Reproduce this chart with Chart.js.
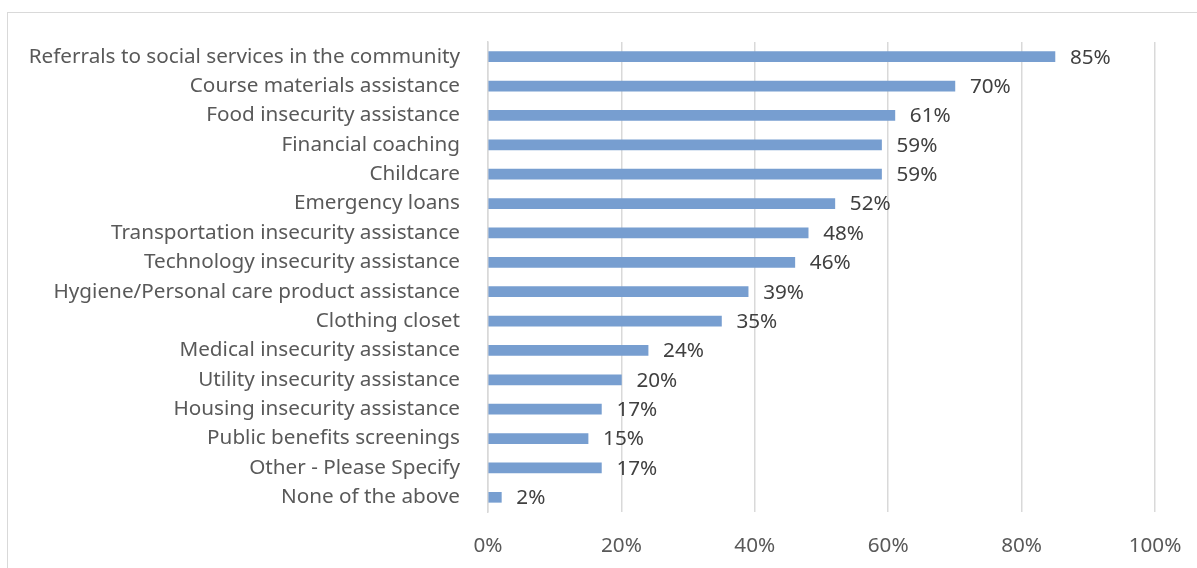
<!DOCTYPE html>
<html>
<head>
<meta charset="utf-8">
<script src="https://cdn.jsdelivr.net/npm/chart.js@4"></script>
<style>
  body { margin: 0; background: #fff; }
  #wrap { position: relative; width: 1197px; height: 568px; }
  #frame { position: absolute; left: 7px; top: 12px; width: 1200px; height: 570px; border: 1px solid #d9d9d9; box-sizing: border-box; }
  canvas { position: absolute; left: 0; top: 0; }
</style>
</head>
<body>
<div id="wrap">
  <div id="frame"></div>
  <canvas id="chart" width="1197" height="568"></canvas>
</div>
<script>
const categories = [
  'Referrals to social services in the community',
  'Course materials assistance',
  'Food insecurity assistance',
  'Financial coaching',
  'Childcare',
  'Emergency loans',
  'Transportation insecurity assistance',
  'Technology insecurity assistance',
  'Hygiene/Personal care product assistance',
  'Clothing closet',
  'Medical insecurity assistance',
  'Utility insecurity assistance',
  'Housing insecurity assistance',
  'Public benefits screenings',
  'Other - Please Specify',
  'None of the above'
];
const values = [85, 70, 61, 59, 59, 52, 48, 46, 39, 35, 24, 20, 17, 15, 17, 2];
const xTicks = [0, 20, 40, 60, 80, 100];

const fontFamily = "'Noto Sans', 'Open Sans', sans-serif";
const fontSize = 20.7;

// value labels to the right of each bar
const barLabels = {
  id: 'barLabels',
  afterDatasetsDraw(chart) {
    const c = chart.ctx;
    const meta = chart.getDatasetMeta(0);
    c.save();
    c.font = fontSize + 'px ' + fontFamily;
    c.fillStyle = '#404040';
    c.textBaseline = 'middle';
    c.textAlign = 'left';
    meta.data.forEach((bar, i) => {
      c.fillText(values[i] + '%', bar.x + 15, bar.y + 1);
    });
    c.restore();
  }
};

new Chart(document.getElementById('chart'), {
  type: 'bar',
  data: {
    labels: categories,
    datasets: [{
      data: values,
      backgroundColor: '#779ed0',
      barThickness: 10
    }]
  },
  options: {
    indexAxis: 'y',
    responsive: false,
    animation: false,
    layout: { padding: { top: 42, right: 42, bottom: 0, left: 0 } },
    plugins: { legend: { display: false }, tooltip: { enabled: false } },
    scales: {
      x: {
        min: 0, max: 100,
        afterBuildTicks(axis) { axis.ticks = xTicks.map(v => ({ value: v })); },
        afterFit(axis) { axis.height = 56; axis.paddingLeft = 0; axis.paddingRight = 0; },
        grid: { color: '#d9d9d9', lineWidth: 1.5, drawTicks: false },
        border: { display: false },
        ticks: {
          padding: 22,
          color: '#595959',
          font: { size: fontSize, family: fontFamily },
          callback: v => v + '%'
        }
      },
      y: {
        afterFit(axis) { axis.width = 488; },
        grid: { display: false },
        border: { display: true, color: '#d9d9d9', width: 1.5 },
        ticks: {
          padding: 20,
          color: '#595959',
          autoSkip: false,
          font: { size: fontSize, family: fontFamily }
        }
      }
    }
  },
  plugins: [barLabels]
});
</script>
</body>
</html>
